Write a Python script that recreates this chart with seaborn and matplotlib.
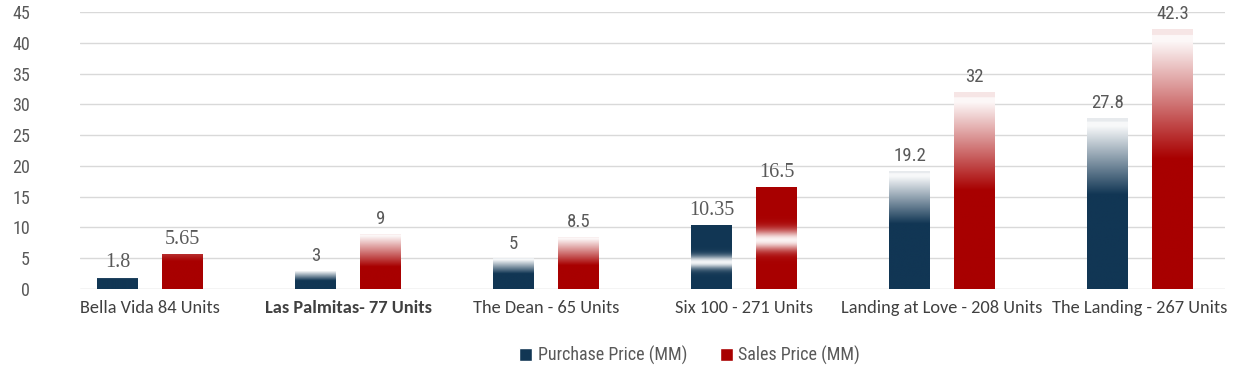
import numpy as np
import pandas as pd
import matplotlib
matplotlib.use("Agg")
import matplotlib.pyplot as plt
from matplotlib import font_manager
from matplotlib.colors import to_rgb
from matplotlib.patches import Patch
import seaborn as sns

categories = ["Bella Vida 84 Units", "Las Palmitas- 77 Units", "The Dean - 65 Units",
              "Six 100 - 271 Units", "Landing at Love - 208 Units", "The Landing - 267 Units"]
purchase = [1.8, 3, 5, 10.35, 19.2, 27.8]
sales = [5.65, 9, 8.5, 16.5, 32, 42.3]
series = ["Purchase Price (MM)", "Sales Price (MM)"]
yticks = [0, 5, 10, 15, 20, 25, 30, 35, 40, 45]

NAVY = "#113654"
RED = "#a80000"
GRID = "#d9d9d9"
TXT = "#404040"
GRAYTXT = "#595959"

# gradient style per group
styles = [
    ("solid", None),
    ("fade", 0.45),
    ("fade", 0.5),
    ("band", None),
    ("fade", 0.55),
    ("fade", 0.55),
]
band_pos = {0: 0.42, 1: 0.48}

df = pd.DataFrame({
    "category": categories * 2,
    "series": [series[0]] * len(categories) + [series[1]] * len(categories),
    "value": purchase + sales,
})

sns.set_theme(style="white")
plt.rcParams["font.family"] = ["DejaVu Sans"]
available = set(f.name for f in font_manager.fontManager.ttflist)
condensed = ["Roboto Condensed", "DejaVu Sans"]
if "Carlito" in available:
    cat_family, cat_size = ["Carlito", "DejaVu Sans"], 13.2
else:
    cat_family, cat_size = ["Lato", "DejaVu Sans"], 12.5

fig = plt.figure(figsize=(12.4, 3.68), dpi=100)
ax = fig.add_axes([0.0645, 0.2147, 0.9235, 0.7527])

sns.barplot(data=df, x="category", y="value", hue="series", order=categories,
            hue_order=series, palette=[NAVY, RED], width=0.656, gap=0.37,
            ax=ax, legend=False, saturation=1, zorder=3)


def whiten_profile(kind, param, f, si):
    m = np.zeros_like(f)
    if kind == "solid":
        m = np.where(f > 0.8, 0.18 * (f - 0.8) / 0.2, 0.0)
    elif kind == "fade":
        a = param if si == 0 else param - 0.05
        m = np.clip((f - a) / (0.95 - a), 0, 1) * 0.97
        m = np.where(f > 0.975, 0.9, m)
    elif kind == "band":
        c = band_pos[si]
        m = 0.95 * np.exp(-((f - c) / 0.1) ** 2)
    return m


f = np.linspace(0, 1, 300)
for si, cont in enumerate(ax.containers):
    base = np.array(to_rgb([NAVY, RED][si]))
    for gi, bar in enumerate(cont):
        x0 = bar.get_x()
        w = bar.get_width()
        h = bar.get_height()
        kind, param = styles[gi]
        m = whiten_profile(kind, param, f, si)[:, None]
        col = base[None, :] * (1 - m) + np.ones(3)[None, :] * m
        img = np.repeat(col[:, None, :], 2, axis=1)
        bar.set_facecolor("none")
        bar.set_edgecolor("none")
        im = ax.imshow(img, extent=[x0, x0 + w, 0, h], origin="lower",
                       aspect="auto", zorder=3, interpolation="bilinear")
        im.set_clip_path(bar)
        v = [purchase, sales][si][gi]
        if gi in (0, 3):
            fam, fs = ["Liberation Serif", "DejaVu Serif"], 14.5
        else:
            fam, fs = condensed, 13.5
        ax.annotate(f"{v:g}", (x0 + w / 2, h), xytext=(0, 4), textcoords="offset points",
                    ha="center", va="bottom", fontsize=fs, color=GRAYTXT,
                    family=fam, annotation_clip=False)

ax.set_xlim(-0.354, 5.43)
ax.set_ylim(0, 45)
ax.set_yticks(yticks)
ax.set_yticklabels([str(t) for t in yticks], family=condensed, fontsize=13, color=GRAYTXT)
ax.tick_params(axis="y", length=0, pad=36)
ax.tick_params(axis="x", length=0, pad=8)
ax.set_xticks(range(len(categories)))
ax.set_xticklabels(categories, family=cat_family, fontsize=cat_size, color=TXT)
ax.get_xticklabels()[1].set_fontweight("bold")
ax.set_xlabel("")
ax.set_ylabel("")
for yt in yticks:
    ax.axhline(yt, color="#c8c8c8" if yt == 0 else GRID, lw=1.0, zorder=1)
for s in ax.spines.values():
    s.set_visible(False)
ax.grid(False)

handles = [Patch(facecolor=NAVY, label=series[0]), Patch(facecolor=RED, label=series[1])]
fig.legend(handles=handles, loc="center", bbox_to_anchor=(0.556, 0.035), ncol=2,
           frameon=False, prop={"family": condensed, "size": 13},
           handlelength=0.75, handleheight=0.75, handletextpad=0.3, columnspacing=1.8,
           labelcolor=GRAYTXT)

fig.savefig("out.png", dpi=100)
